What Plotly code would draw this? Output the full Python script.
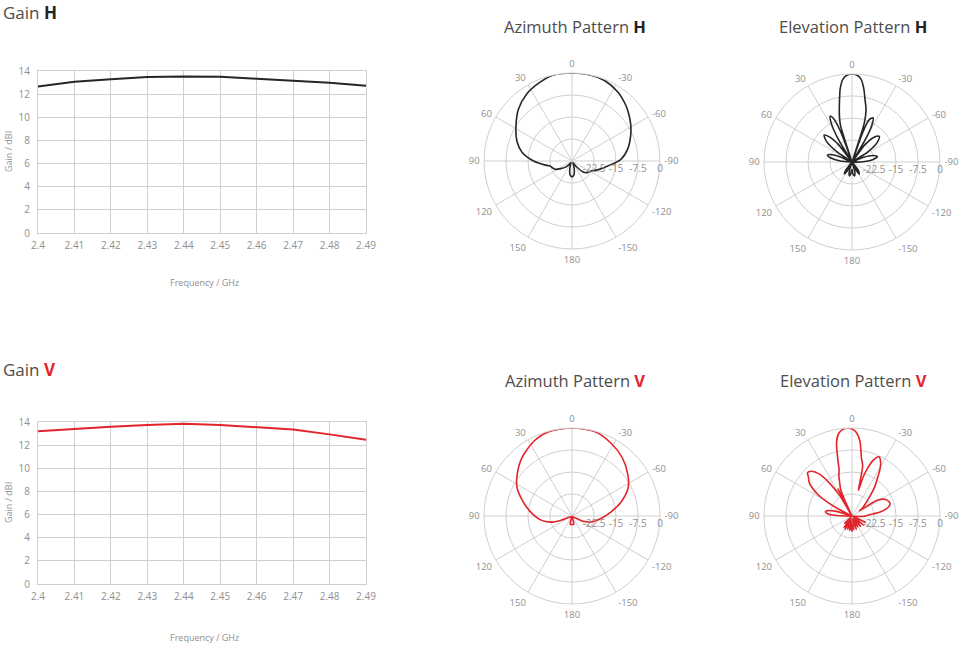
import plotly.graph_objects as go

W, H = 959, 646

# gain vs frequency
freq = [2.40, 2.41, 2.42, 2.43, 2.44, 2.45, 2.46, 2.47, 2.48, 2.49]
freq_labels = ["2.4", "2.41", "2.42", "2.43", "2.44", "2.45", "2.46", "2.47", "2.48", "2.49"]
gain_h = [12.65, 13.07, 13.28, 13.48, 13.53, 13.5, 13.33, 13.19, 12.99, 12.73]
gain_v = [13.19, 13.42, 13.59, 13.74, 13.85, 13.74, 13.53, 13.36, 12.93, 12.47]

# azimuth pattern H (deg, dB)
az_h_theta = [-180, -172, -165, -157, -150, -142, -135, -128, -118, -108, -98, -88, -78, -67,
              -58, -50, -44, -34, -22, -12, 0, 12, 22, 34, 46, 59, 70, 80, 90, 98, 103, 110,
              117, 125, 133, 140, 150, 157, 165, 172, 180]
az_h_db = [-24.6, -25.2, -27.0, -28.8, -29.3, -27.5, -24.8, -23.5, -22.7, -20.5, -17.7, -13.3,
           -10.6, -8.3, -6.4, -4.8, -3.6, -1.8, -0.4, 0.0, 0.0, 0.0, -1.0, -2.4, -4.6, -7.7,
           -10.0, -12.7, -16.9, -20.5, -22.3, -23.0, -23.7, -25.5, -26.8, -28.5, -29.3, -28.5,
           -27.0, -25.2, -24.6]

# azimuth pattern V
az_v_theta = [-180, -168, -165, -150, -125, -119, -116, -108, -95, -84, -74, -64, -54, -41,
              -28, -15, 0, 15, 27, 41, 53, 63, 72, 84, 97, 106, 111, 114, 125, 150, 165, 168, 180]
az_v_db = [-27.1, -27.1, -29.5, -29.8, -29.2, -28.6, -26.1, -23.3, -20.1, -16.6, -12.6, -8.8,
           -6.4, -3.8, -1.8, -0.2, 0.0, -0.2, -1.4, -3.9, -6.6, -9.0, -12.1, -15.7, -19.2,
           -22.4, -25.8, -28.9, -29.5, -29.8, -29.5, -27.1, -27.1]

# elevation pattern H
el_h_theta = [-180, -176, -170, -164, -159, -155, -149, -143, -138, -95, -90, -84, -78, -73,
              -68, -63, -58, -52, -47, -42, -37, -33, -31, -28.5, -25.5, -22, -20, -19, -17.5,
              -15, -12, -9, -6, -3, 0, 3, 6, 9, 12.5, 15.5, 17.5, 19, 20.5, 23, 25.5, 28.5,
              31.5, 33, 38, 42, 46, 51, 56, 61, 67, 71, 74.5, 79, 85, 90, 138, 143, 147, 152,
              157, 162, 166, 170, 174, 180]
el_h_db = [-27.5, -26.0, -25.2, -26.5, -30, -28.0, -25.2, -26.5, -30, -30, -27.0, -23.0,
           -21.2, -22.5, -26.0, -30, -24.0, -19.0, -17.3, -18.5, -22.5, -30, -22.0, -16.0,
           -13.3, -14.5, -19.0, -30, -16.0, -11.5, -8.5, -4.5, -1.4, -0.3, 0.0, -0.3, -1.4,
           -4.5, -10.1, -14.0, -17.0, -30, -19.0, -14.0, -12.7, -15.5, -22.0, -30, -22.5,
           -18.5, -16.8, -18.8, -24.0, -30, -25.5, -22.2, -21.3, -22.5, -26.0, -30, -30,
           -26.5, -25.2, -26.5, -30, -28.0, -25.8, -25.2, -26.0, -27.5]

# elevation pattern V
el_v_theta = [-180, -176, -172, -167, -162, -157, -152, -147, -141, -135, -128, -121, -115,
              -110, -100, -92, -86, -81.4, -77, -71.6, -64, -58, -55, -53, -47, -41.6, -38,
              -34, -31, -27.8, -24.5, -21, -18, -16, -14, -12, -9.2, -6, -3, 0, 3, 6, 9.2,
              11.8, 14, 15.5, 18, 21, 23, 24.5, 26, 27.5, 29.5, 31, 34, 38, 42, 46, 48, 52,
              58, 62, 66, 70, 74, 77.5, 81, 85, 88, 125, 130, 135, 140, 145, 149, 153, 157,
              162, 166, 170, 174, 177, 180]
el_v_db = [-24.6, -27.0, -25.3, -29.0, -25.2, -28.0, -25.8, -29.0, -25.5, -28.0, -24.9,
           -29.0, -25.0, -30, -30, -26.0, -24.0, -20.1, -17.5, -16.3, -17.2, -19.8, -27.0,
           -25.6, -23.5, -20.4, -17.5, -14.5, -11.5, -9.1, -7.8, -9.5, -12.9, -16.0, -21.0,
           -12.5, -9.9, -4.3, -1.5, -0.3, 0.0, -0.3, -1.5, -4.3, -9.9, -13.5, -15.5, -18.5,
           -20.0, -24.0, -30, -19.5, -30, -22.0, -17.0, -11.8, -9.5, -8.9, -10.0, -11.5,
           -16.5, -22.8, -30, -30, -24.0, -21.5, -20.8, -21.8, -25.0, -30, -30, -26.5,
           -29.0, -25.2, -28.5, -24.8, -28.0, -25.3, -29.0, -25.0, -28.0, -25.2, -27.0, -24.6]

ang_vals = [0, 30, 60, 90, 120, 150, 180, 210, 240, 270, 300, 330]
ang_text = ["0", "30", "60", "90", "120", "150", "180", "-150", "-120", "-90", "-60", "-30"]
rad_vals = [-22.5, -15, -7.5, -0.001]
rad_text = ["-22.5", "-15", "-7.5", "0"]

DARK = "#262626"
RED = "#e3242b"
GRID = "#cfcfcf"
TICK = "#8f8f8f"
FONT = "Open Sans"


def px_x(a, b):
    return [a / W, b / W]


def px_y(top, bottom):
    return [1 - bottom / H, 1 - top / H]


fig = go.Figure()

# gain line charts
fig.add_trace(go.Scatter(x=freq, y=gain_h, mode="lines", line=dict(color=DARK, width=2),
                         xaxis="x", yaxis="y", showlegend=False, hoverinfo="skip"))
fig.add_trace(go.Scatter(x=freq, y=gain_v, mode="lines", line=dict(color=RED, width=2),
                         xaxis="x2", yaxis="y2", showlegend=False, hoverinfo="skip"))

# polar patterns
polar_line = dict(width=1.6, shape="spline", smoothing=0.8)
fig.add_trace(go.Scatterpolar(theta=az_h_theta, r=az_h_db, mode="lines", subplot="polar",
                              line=dict(polar_line, color=DARK), showlegend=False))
fig.add_trace(go.Scatterpolar(theta=el_h_theta, r=el_h_db, mode="lines", subplot="polar2",
                              line=dict(polar_line, color=DARK), showlegend=False))
fig.add_trace(go.Scatterpolar(theta=az_v_theta, r=az_v_db, mode="lines", subplot="polar3",
                              line=dict(polar_line, color=RED), showlegend=False))
fig.add_trace(go.Scatterpolar(theta=el_v_theta, r=el_v_db, mode="lines", subplot="polar4",
                              line=dict(polar_line, color=RED), showlegend=False))

xax = dict(range=[2.40, 2.49], tickvals=freq, ticktext=freq_labels, showgrid=True,
           gridcolor=GRID, showline=True, linecolor=GRID, mirror=True, zeroline=False,
           ticks="", automargin=False, ticklabelstandoff=3,
           tickfont=dict(size=10, color=TICK, family=FONT), fixedrange=True)
yax = dict(range=[0, 14], dtick=2, showgrid=True, gridcolor=GRID, showline=True,
           linecolor=GRID, mirror=True, zeroline=False, ticks="", automargin=False,
           ticklabelstandoff=5,
           tickfont=dict(size=10, color=TICK, family=FONT), fixedrange=True)


def polar_layout(xd, yd):
    return dict(
        domain=dict(x=xd, y=yd),
        bgcolor="white",
        angularaxis=dict(direction="counterclockwise", rotation=90, tickmode="array",
                         tickvals=ang_vals, ticktext=ang_text, ticks="outside",
                         ticklen=2, tickcolor="white",
                         tickfont=dict(size=9.5, color=TICK, family=FONT),
                         gridcolor=GRID, linecolor=GRID, showline=True),
        radialaxis=dict(range=[-30, 0], tickmode="array", tickvals=rad_vals,
                        ticktext=rad_text, angle=0, side="clockwise", ticks="",
                        showline=False, gridcolor=GRID,
                        tickfont=dict(size=10, color=TICK, family=FONT)),
    )


def title_ann(text, x, y, size=16.5, anchor="center", yanchor="middle"):
    return dict(text=text, x=x / W, y=1 - y / H, xref="paper", yref="paper",
                xanchor=anchor, yanchor=yanchor, showarrow=False, borderpad=0,
                font=dict(size=size, color="#4d4d4d", family=FONT))


def label_ann(text, x, y, angle=0):
    return dict(text=text, x=x / W, y=1 - y / H, xref="paper", yref="paper",
                xanchor="center", yanchor="middle", showarrow=False, textangle=angle,
                font=dict(size=9, color=TICK, family=FONT))


red_v = "<b><span style='color:%s'>V</span></b>" % RED
dark_h = "<b><span style='color:#222'>H</span></b>"

fig.update_layout(
    width=W, height=H,
    margin=dict(l=0, r=0, t=0, b=0, pad=0),
    paper_bgcolor="white",
    plot_bgcolor="white",
    font=dict(family=FONT),
    xaxis=dict(xax, domain=px_x(38, 366)),
    yaxis=dict(yax, domain=px_y(71, 233)),
    xaxis2=dict(xax, domain=px_x(38, 366), anchor="y2"),
    yaxis2=dict(yax, domain=px_y(422, 584), anchor="x2"),
    polar=polar_layout(px_x(484, 660), px_y(73, 249)),
    polar2=polar_layout(px_x(764, 940), px_y(74, 250)),
    polar3=polar_layout(px_x(484, 660), px_y(428, 604)),
    polar4=polar_layout(px_x(764, 940), px_y(428, 604)),
    annotations=[
        title_ann("Gain " + dark_h, 2, 0, size=17, anchor="left", yanchor="top"),
        title_ann("Gain " + red_v, 2, 369, size=17, anchor="left"),
        title_ann("Azimuth Pattern " + dark_h, 575, 26),
        title_ann("Elevation Pattern " + dark_h, 853, 26),
        title_ann("Azimuth Pattern " + red_v, 575, 380),
        title_ann("Elevation Pattern " + red_v, 853, 380),
        label_ann("Frequency / GHz", 204, 283),
        label_ann("Frequency / GHz", 204, 637),
        label_ann("Gain / dBI", 8, 152, angle=-90),
        label_ann("Gain / dBI", 8, 503, angle=-90),
    ],
)

# the page body has a default 8px margin; drop it so the figure sits at 0,0
fig.write_html("out.html", config={"displayModeBar": False},
               post_script="document.body.style.margin='0px';")
